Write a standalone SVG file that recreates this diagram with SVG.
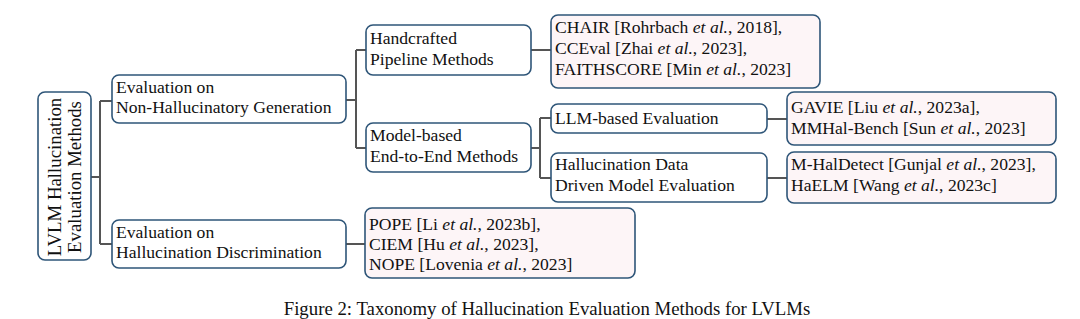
<svg xmlns="http://www.w3.org/2000/svg" width="1080" height="319" viewBox="0 0 1080 319">
<style>
.box{fill:#ffffff;stroke:#2e5578;stroke-width:1.6}
.leaf{fill:#fdf5f7;stroke:#2e5578;stroke-width:1.6}
.t{font-family:"Liberation Serif","Times New Roman",serif;font-size:17.6px;fill:#111}
.r{font-size:18.8px}
.c{fill:none;stroke:#555;stroke-width:2}
</style>
<rect width="1080" height="319" fill="#fff"/>
<g id="connectors">
<path class="c" d="M91 177H100M100 101V244M100 101H112M100 244H112"/>
<path class="c" d="M346 100H356M356 50V148M356 50H366M356 148H366"/>
<path class="c" d="M531 50H551"/>
<path class="c" d="M531 148H540M540 118V178M540 118H551M540 178H551"/>
<path class="c" d="M767 119H787M767 178H787"/>
<path class="c" d="M346 244H365"/>
</g>
<g id="root">
<rect class="box" x="38" y="92" width="53" height="168" rx="7"/>
<text class="t r" transform="translate(61,177) rotate(-90)" text-anchor="middle">LVLM Hallucination</text>
<text class="t r" transform="translate(81,177) rotate(-90)" text-anchor="middle">Evaluation Methods</text>
</g>
<g id="nonhall">
<rect class="box" x="112" y="75" width="234" height="48" rx="7"/>
<text class="t" x="116" y="93">Evaluation on</text>
<text class="t" x="116" y="113">Non-Hallucinatory Generation</text>
</g>
<g id="disc">
<rect class="box" x="112" y="220" width="234" height="48" rx="7"/>
<text class="t" x="116" y="238">Evaluation on</text>
<text class="t" x="116" y="258">Hallucination Discrimination</text>
</g>
<g id="handcrafted">
<rect class="box" x="366" y="25" width="165" height="50" rx="7"/>
<text class="t" x="370" y="44">Handcrafted</text>
<text class="t" x="370" y="65">Pipeline Methods</text>
</g>
<g id="chair">
<rect class="leaf" x="551" y="15" width="269" height="73" rx="7"/>
<text class="t" x="555" y="33">CHAIR [Rohrbach <tspan font-style="italic">et al.</tspan>, 2018],</text>
<text class="t" x="555" y="54">CCEval [Zhai <tspan font-style="italic">et al.</tspan>, 2023],</text>
<text class="t" x="555" y="75">FAITHSCORE [Min <tspan font-style="italic">et al.</tspan>, 2023]</text>
</g>
<g id="modelbased">
<rect class="box" x="366" y="123" width="165" height="49" rx="7"/>
<text class="t" x="370" y="141">Model-based</text>
<text class="t" x="370" y="162">End-to-End Methods</text>
</g>
<g id="llm">
<rect class="box" x="551" y="104" width="216" height="29" rx="7"/>
<text class="t" x="555" y="124">LLM-based Evaluation</text>
</g>
<g id="hdata">
<rect class="box" x="551" y="153" width="216" height="49" rx="7"/>
<text class="t" x="555" y="170">Hallucination Data</text>
<text class="t" x="555" y="191">Driven Model Evaluation</text>
</g>
<g id="gavie">
<rect class="leaf" x="787" y="92" width="269" height="53" rx="7"/>
<text class="t" x="791" y="113">GAVIE [Liu <tspan font-style="italic">et al.</tspan>, 2023a],</text>
<text class="t" x="791" y="134">MMHal-Bench [Sun <tspan font-style="italic">et al.</tspan>, 2023]</text>
</g>
<g id="mhal">
<rect class="leaf" x="787" y="152" width="269" height="51" rx="7"/>
<text class="t" x="791" y="170">M-HalDetect [Gunjal <tspan font-style="italic">et al.</tspan>, 2023],</text>
<text class="t" x="791" y="191">HaELM [Wang <tspan font-style="italic">et al.</tspan>, 2023c]</text>
</g>
<g id="pope">
<rect class="leaf" x="365" y="208" width="270" height="70" rx="7"/>
<text class="t" x="369" y="230">POPE [Li <tspan font-style="italic">et al.</tspan>, 2023b],</text>
<text class="t" x="369" y="250">CIEM [Hu <tspan font-style="italic">et al.</tspan>, 2023],</text>
<text class="t" x="369" y="270">NOPE [Lovenia <tspan font-style="italic">et al.</tspan>, 2023]</text>
</g>
<text class="t r" x="547" y="315" text-anchor="middle">Figure 2: Taxonomy of Hallucination Evaluation Methods for LVLMs</text>
</svg>
